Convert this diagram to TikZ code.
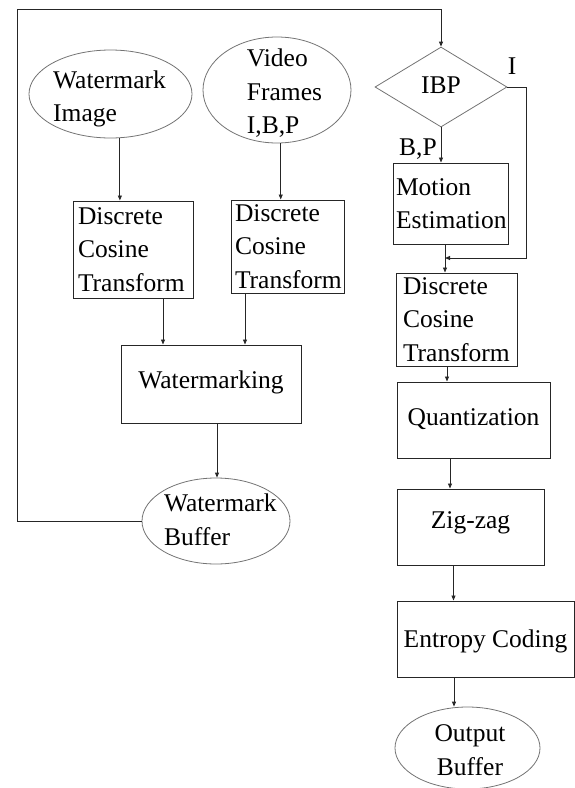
\documentclass[tikz,border=0pt]{standalone}
\usepackage{fontspec}
\setmainfont{Liberation Serif}
\usetikzlibrary{shapes.geometric,arrows.meta}
\begin{document}
\begin{tikzpicture}[x=1pt,y=-1pt,
  font=\fontsize{25.5pt}{33.5pt}\selectfont,
  lbox/.style={rectangle, draw=black!85, line width=1pt, inner ysep=0pt, align=left},
  cbox/.style={rectangle, draw=black!85, line width=1pt, inner sep=0pt, align=center, text height=18pt},
  oval/.style={ellipse, draw=black!55, line width=0.8pt, inner sep=0pt},
  dia/.style={diamond, draw=black!55, line width=0.8pt, inner sep=0pt, text height=18pt},
  lbl/.style={inner sep=0pt, align=left},
  tag/.style={inner sep=0pt},
  arr/.style={draw=black!85, line width=0.9pt, -{Triangle[length=5pt,width=4pt]}}
]
\useasboundingbox (0,0) rectangle (575,788);

% left branch
\node[oval, minimum width=163pt, minimum height=88pt,
  label={[lbl,name=wiT,xshift=-1pt,yshift=-4.85pt]center:{Watermark\\Image}}] (wi) at (110.5,94) {};
\node[oval, minimum width=148pt, minimum height=106pt,
  label={[lbl,name=vfT,xshift=7.5pt,yshift=-3.6pt]center:{Video\\Frames\\I,B,P}}] (vf) at (277,90) {};
\node[lbox, inner xsep=5pt, text width=110pt, minimum width=120pt, minimum height=97pt] (dct1) at (133,249.5) {Discrete\\Cosine\\Transform};
\node[lbox, inner xsep=4pt, text width=105pt, minimum width=113pt, minimum height=93pt] (dct2) at (287.5,246.5) {Discrete\\Cosine\\Transform};
\node[cbox, minimum width=180pt, minimum height=78pt, text depth=10pt] (wm) at (211,384) {Watermarking};
\node[oval, minimum width=148pt, minimum height=86pt,
  label={[lbl,name=wbT,xshift=4.35pt,yshift=1pt]center:{Watermark\\Buffer}}] (wb) at (216,521) {};

% right branch
\node[dia, minimum width=132pt, minimum height=80pt, text depth=6pt] (ibp) at (441,87) {IBP};
\node[tag] (iT) at (512,66) {I};
\node[tag, anchor=base east] (bpT) at (437,155) {B,P};
\node[lbox, inner xsep=3pt, text width=109pt, minimum width=115pt, minimum height=81pt] (me) at (450.5,203.5) {Motion\\Estimation};
\node[lbox, inner xsep=7pt, text width=107pt, minimum width=121pt, minimum height=93pt] (dct3) at (456.5,319.5) {Discrete\\Cosine\\Transform};
\node[cbox, minimum width=153pt, minimum height=76pt, text depth=8pt] (quant) at (473.5,420) {Quantization};
\node[cbox, minimum width=147pt, minimum height=76pt, text depth=16pt] (zig) at (470.5,527) {Zig-zag};
\node[cbox, minimum width=177pt, minimum height=76pt, text depth=2pt] (ent) at (485.5,639) {Entropy Coding};
\node[oval, minimum width=145pt, minimum height=82pt,
  label={[tag,align=center,name=obT,xshift=2.5pt,yshift=-2pt]center:{Output\\Buffer}}] (ob) at (467.5,748) {};

% connectors
\draw[arr] (wi.-78) -- (wi.-78 |- dct1.north);
\draw[arr] (vf.-86) -- (vf.-86 |- dct2.north);
\draw[arr] ([xshift=30pt]dct1.south) -- ([xshift=30pt]dct1.south |- wm.north);
\draw[arr] ([xshift=-42.5pt]dct2.south) -- ([xshift=-42.5pt]dct2.south |- wm.north);
\draw[arr] ([xshift=6pt]wm.south) -- ([xshift=6pt]wm.south |- wb.north);
\coordinate (lc) at (17,9);
\draw[arr] (wb.west) -| (lc) -| (ibp.north);

\draw[arr] (ibp.south) -- (ibp.south |- me.north);
\coordinate (mj) at (445,258);
\draw[arr] (ibp.east) -- ++(19,0) |- (mj);
\draw[arr] (me.south -| mj) -- (dct3.north -| mj);
\draw[arr] ([xshift=-9.5pt]dct3.south) -- ([xshift=-9.5pt]dct3.south |- quant.north);
\draw[arr] ([xshift=-23.5pt]quant.south) -- ([xshift=-23.5pt]quant.south |- zig.north);
\draw[arr] ([xshift=-17pt]zig.south) -- ([xshift=-17pt]zig.south |- ent.north);
\draw[arr] ([xshift=-31.5pt]ent.south) -- ([xshift=-31.5pt]ent.south |- ob.north);
\end{tikzpicture}
\end{document}
